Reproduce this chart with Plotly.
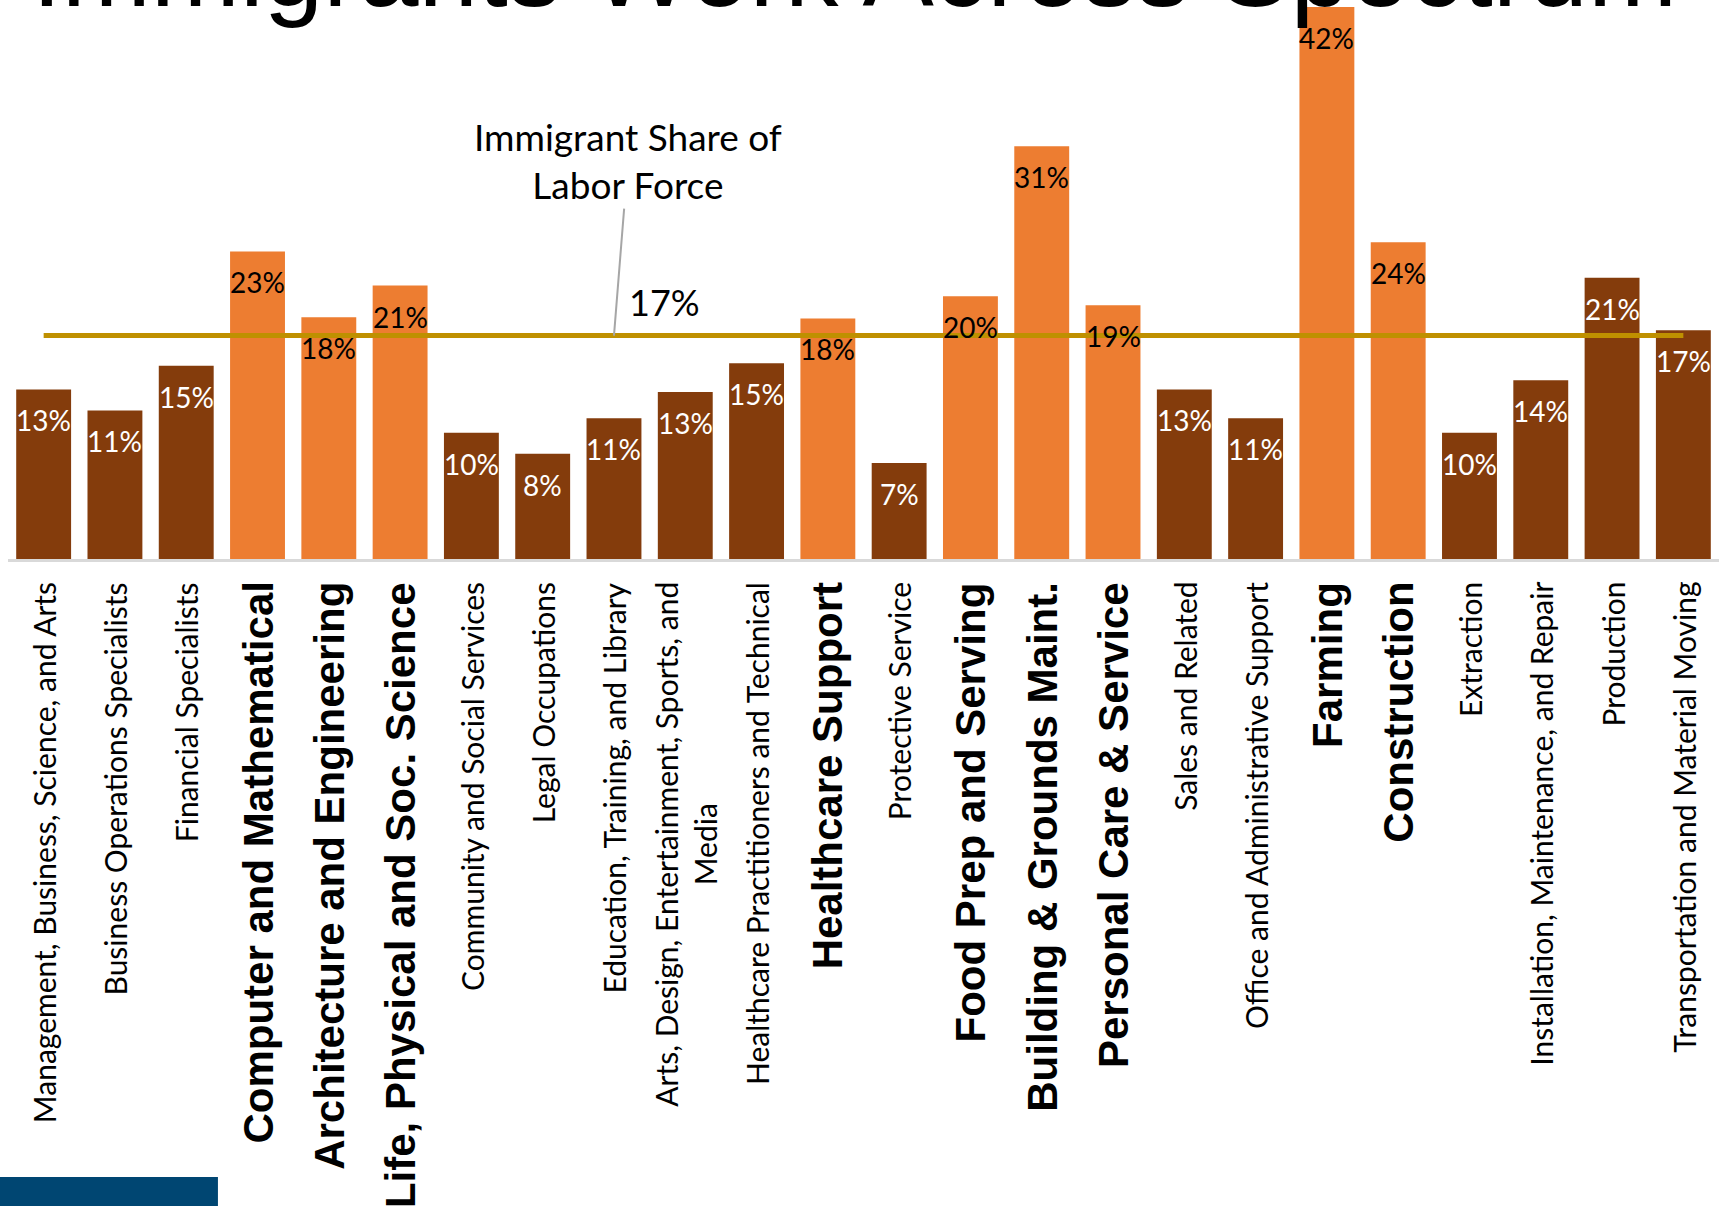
import plotly.graph_objects as go

# ---- data ----
categories = [
    "Management, Business, Science, and Arts",
    "Business Operations Specialists",
    "Financial Specialists",
    "Computer and Mathematical",
    "Architecture and Engineering",
    "Life, Physical and Soc. Science",
    "Community and Social Services",
    "Legal Occupations",
    "Education, Training, and Library",
    "Arts, Design, Entertainment, Sports, and<br>Media",
    "Healthcare Practitioners and Technical",
    "Healthcare Support",
    "Protective Service",
    "Food Prep and Serving",
    "Building & Grounds Maint.",
    "Personal Care & Service",
    "Sales and Related",
    "Office and Administrative Support",
    "Farming",
    "Construction",
    "Extraction",
    "Installation, Maintenance, and Repair",
    "Production",
    "Transportation and Material Moving",
]
immigrant_share = [12.9, 11.3, 14.7, 23.4, 18.4, 20.8, 9.6, 8.0, 10.7, 12.7, 14.9, 18.3,
                   7.3, 20.0, 31.4, 19.3, 12.9, 10.7, 42.0, 24.1, 9.6, 13.6, 21.4, 17.4]
highlighted = [0, 0, 0, 1, 1, 1, 0, 0, 0, 0, 0, 1, 0, 1, 1, 1, 0, 0, 1, 1, 0, 0, 0, 0]
labor_force_share = 17
title_text = "Immigrants Work Across Spectrum"
callout_text = "Immigrant Share of<br>Labor Force"

# ---- style ----
DARK = "#843C0C"
ORANGE = "#ED7D31"
GOLD = "#BF9000"
PLAIN_FONT = "Lato"
BOLD_FONT = "Liberation Sans"

bar_colors = [ORANGE if h else DARK for h in highlighted]

fig = go.Figure()
fig.add_trace(go.Bar(
    x=categories, y=immigrant_share,
    marker=dict(color=bar_colors, line=dict(width=0)),
    hoverinfo="skip", showlegend=False,
))
fig.add_trace(go.Scatter(
    x=categories, y=[labor_force_share] * len(categories),
    mode="lines", line=dict(color=GOLD, width=5),
    hoverinfo="skip", showlegend=False,
))

annotations = []
# value labels inside bar tops
for c, v, h in zip(categories, immigrant_share, highlighted):
    annotations.append(dict(
        x=c, y=v, xref="x", yref="y", text=f"{round(v)}%", showarrow=False,
        yanchor="middle", xanchor="center", yshift=-31,
        font=dict(family=PLAIN_FONT, size=28, color="black" if h else "white"),
    ))
# category labels (rotated)
for c, h in zip(categories, highlighted):
    if h:
        f = dict(family=BOLD_FONT, size=42, color="black", weight="bold")
    else:
        f = dict(family=PLAIN_FONT, size=30, color="black")
    annotations.append(dict(
        x=c, y=0, xref="x", yref="y", text=c, showarrow=False,
        textangle=-90, xanchor="center", yanchor="top", yshift=-21,
        align="center", font=f,
    ))
# callout for the labor force share
ref_cat = categories[8]
annotations.append(dict(
    x=ref_cat, y=labor_force_share, xref="x", yref="y", text=callout_text,
    showarrow=True, arrowhead=0, arrowwidth=2, arrowcolor="#A6A6A6",
    ax=14, ay=-175, standoff=0, startstandoff=0,
    font=dict(family=PLAIN_FONT, size=37, color="black"), align="center",
))
annotations.append(dict(
    x=ref_cat, y=labor_force_share, xref="x", yref="y", text=f"{labor_force_share}%",
    showarrow=False, xshift=51, yshift=34,
    font=dict(family=PLAIN_FONT, size=36, color="black"),
))
# slide title (cut off at the top of the picture)
annotations.append(dict(
    x=0.495, y=1, xref="paper", yref="paper", text=title_text, showarrow=False,
    xanchor="center", yanchor="bottom", yshift=-31,
    font=dict(family=BOLD_FONT, size=107, color="black"),
))

fig.update_layout(
    width=1719, height=1206,
    margin=dict(l=8, r=0, t=0, b=647),
    paper_bgcolor="white", plot_bgcolor="white",
    bargap=0.23,
    annotations=annotations,
    shapes=[dict(type="rect", xref="paper", yref="paper",
                 x0=-0.0047, x1=0.1227, y0=-1.16, y1=-1.1056,
                 fillcolor="#004672", line=dict(width=0), layer="above")],
    xaxis=dict(showticklabels=False, showgrid=False, zeroline=False,
               showline=True, linecolor="#D9D9D9", linewidth=3,
               range=[-0.5, len(categories) - 0.5], fixedrange=True),
    yaxis=dict(visible=False, range=[0, 42.53], fixedrange=True),
)

fig.write_html("out.html", config={"displayModeBar": False},
               post_script="document.body.style.margin='0';document.body.style.overflow='hidden';")
